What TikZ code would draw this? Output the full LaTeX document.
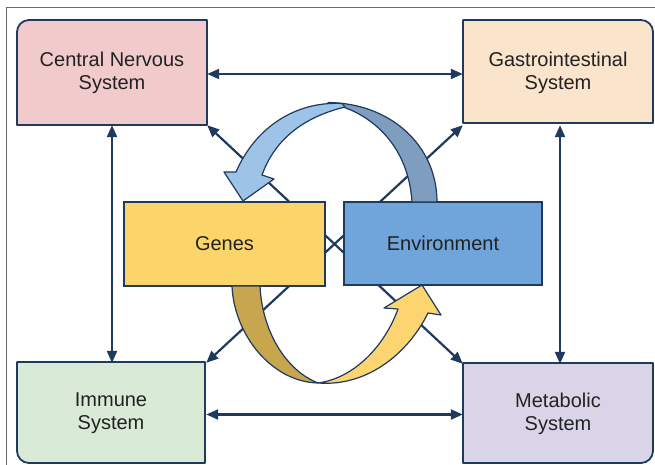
\documentclass[tikz,border=0pt]{standalone}
\usepackage{fontspec}
\setmainfont{Liberation Sans}
\usetikzlibrary{arrows.meta}
\definecolor{navy}{HTML}{1E3A5F}
\definecolor{txtc}{HTML}{222222}
\definecolor{cnsfill}{HTML}{F1CACB}
\definecolor{gifill}{HTML}{FAE4CC}
\definecolor{immfill}{HTML}{D9EAD6}
\definecolor{metfill}{HTML}{DAD4E9}
\definecolor{genfill}{HTML}{FCD56A}
\definecolor{envfill}{HTML}{6FA5DA}
\definecolor{bluelight}{HTML}{9DC3E6}
\definecolor{bluedark}{HTML}{7F9DBF}
\definecolor{goldlight}{HTML}{FCD570}
\definecolor{golddark}{HTML}{C8A64E}
\definecolor{framec}{HTML}{6A6A6A}
\pgfdeclarelayer{bg}
\pgfsetlayers{bg,main}
\begin{document}
\begin{tikzpicture}[x=1pt,y=-1pt,
  sysbox/.style={minimum width=190pt, minimum height=104pt, inner sep=0pt, align=center, text=txtc, font=\fontsize{20}{23}\selectfont},
  corebox/.style={draw=navy, line width=1.8pt, inner sep=0pt, text=txtc, font=\fontsize{20}{23}\selectfont},
  link/.style={navy, line width=2.2pt, {Triangle[length=12pt,width=10pt]}-{Triangle[length=12pt,width=10pt]}},
  outline/.style={draw=navy, line width=1.8pt, line join=round},
  ribbon/.style={draw=navy, line width=1.2pt, line join=round}]
\useasboundingbox (0,0) rectangle (655,465);

% named nodes (text)
\node[sysbox] (cns) at (112,73) {Central Nervous\\System};
\node[sysbox] (gi) at (558,73) {Gastrointestinal\\System};
\node[sysbox, minimum height=101pt] (imm) at (111,413.5) {Immune\\System};
\node[sysbox, minimum height=100pt] (met) at (558,414) {Metabolic\\System};

\begin{pgfonlayer}{bg}
  \fill[white] (0,0) rectangle (655,465);
  \draw[framec, line width=1pt] (6,465) -- (6,8) -- (655,8);
  % outer boxes with one rounded corner each
  \path[outline, fill=cnsfill] (17,125) -- (17,32) .. controls (17,25.4) and (22.4,20) .. (29,20) -- (207,20) -- (207,125) -- cycle;
  \path[outline, fill=gifill] (463,123) -- (463,20) -- (641,20) .. controls (647.6,20) and (653,25.4) .. (653,32) -- (653,123) -- cycle;
  \path[outline, fill=immfill] (17,362) -- (205,362) -- (205,463) -- (29,463) .. controls (22.4,463) and (17,457.6) .. (17,451) -- cycle;
  \path[outline, fill=metfill] (463,363) -- (653,363) -- (653,451) .. controls (653,457.6) and (647.6,463) .. (641,463) -- (463,463) -- cycle;
  % connectors
  \draw[link] ([yshift=-1pt]cns.east) -- ([yshift=-1pt]gi.west);
  \draw[link] (cns.south) -- (cns.south |- imm.north);
  \draw[link] ([xshift=2pt]gi.south) -- ([xshift=2pt]gi.south |- met.north);
  \draw[link] ([yshift=-1pt]imm.east) -- ([yshift=-1pt]imm.east -| met.west);
  \draw[link] (cns.south east) -- (met.north west);
  \draw[link] (gi.south west) -- (imm.north east);
\end{pgfonlayer}

\node[corebox, fill=genfill, minimum width=201pt, minimum height=84pt] (genes) at (224.5,244) {Genes};
\node[corebox, fill=envfill, minimum width=198pt, minimum height=83pt] (env) at (443,243.5) {Environment};

% upper curved arrow (Environment -> Genes): dark back face, then light front face
\path[ribbon, fill=bluedark] (412,202) -- (437,202) .. controls (437,145) and (390,103) .. (328,102.5)
  .. controls (332,103) and (334,104) .. (336,105)
  .. controls (365,112) and (408,140) .. (412,202) -- cycle;
\path[ribbon, fill=bluelight] (342,103.5) .. controls (295,101) and (255,128) .. (236,172)
  -- (224,172) -- (243,201) -- (274,179) -- (262,175)
  .. controls (274,142) and (300,118) .. (345,107) -- cycle;

% lower curved arrow (Genes -> Environment)
\path[ribbon, fill=golddark] (232,286) -- (260,286) .. controls (262,330) and (285,370) .. (318,383)
  .. controls (272,382) and (234,335) .. (232,286) -- cycle;
\path[ribbon, fill=goldlight] (318,383) .. controls (370,387) and (410,350) .. (428,313)
  -- (441,315) -- (422,285) -- (384,308) -- (398,309)
  .. controls (385,345) and (355,378) .. (318,383) -- cycle;
\end{tikzpicture}
\end{document}
